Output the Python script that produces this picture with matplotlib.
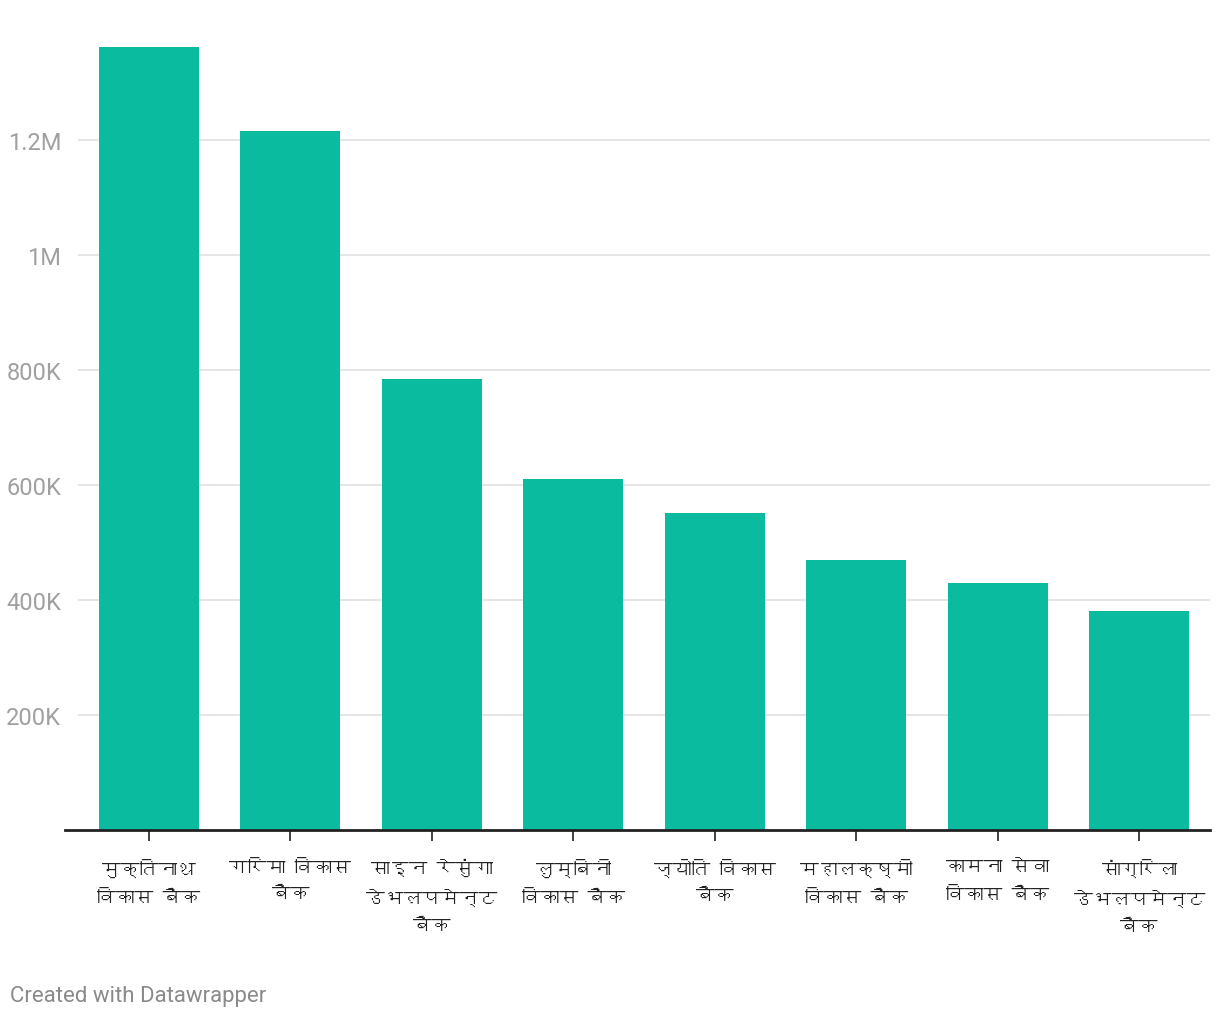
import numpy as np
import matplotlib.pyplot as plt
from matplotlib import font_manager
from matplotlib.ft2font import FT2Font


banks = ["मुक्तिनाथ\nविकास बैंक", "गरिमा विकास\nबैंक", "साइन रेसुंगा\nडेभलपमेन्ट\nबैंक",
         "लुम्बिनी\nविकास बैंक", "ज्योति विकास\nबैंक", "महालक्ष्मी\nविकास बैंक",
         "कामना सेवा\nविकास बैंक", "सांग्रिला\nडेभलपमेन्ट\nबैंक"]
values = [1362000, 1216000, 784000, 610000, 551000, 470000, 430000, 381000]
yticks = [200000, 400000, 600000, 800000, 1000000, 1200000]
ylabels = ["200K", "400K", "600K", "800K", "1M", "1.2M"]


# look for any installed font that can draw Devanagari
def devanagari_family():
    for f in font_manager.fontManager.ttflist:
        try:
            if 0x0915 in FT2Font(f.fname).get_charmap():
                return f.name
        except Exception:
            pass
    return None

deva = devanagari_family()
fams = ([deva] if deva else []) + ["Roboto", "DejaVu Sans"]
plt.rcParams['font.family'] = ["Roboto", "DejaVu Sans"]

fig = plt.figure(figsize=(12.2, 10.2), dpi=100)
ax = fig.add_axes([78/1220, 1 - 831/1020, 1132/1220, 791/1020])

x = np.arange(len(banks))
ax.bar(x, values, width=0.707, color='#0abb9f', zorder=2)

ax.set_xlim(-0.5, len(banks) - 0.5)
ax.set_ylim(0, 1375700)
ax.set_yticks(yticks)
ax.set_yticklabels(ylabels, fontsize=17, color='#a0a0a0')
ax.set_xticks(x)
ax.set_xticklabels(banks, fontsize=13.5, color='#222222', family=fams,
                   linespacing=1.75, fontweight='bold')

ax.tick_params(axis='y', length=0, pad=12)
ax.tick_params(axis='x', length=8, width=1.3, color='#333333', pad=12)
ax.grid(axis='y', color='#e3e3e3', linewidth=1.3, zorder=0)
for s in ['top', 'right', 'left', 'bottom']:
    ax.spines[s].set_visible(False)
ax.plot([-0.59, len(banks) - 0.5], [0, 0], color='#222222', lw=2, clip_on=False, zorder=3)

fig.text(10/1220, 1 - 997/1020, "Created with Datawrapper", fontsize=16,
         color='#8a8a8a', va='center', ha='left')

plt.savefig('out.png', dpi=100)
